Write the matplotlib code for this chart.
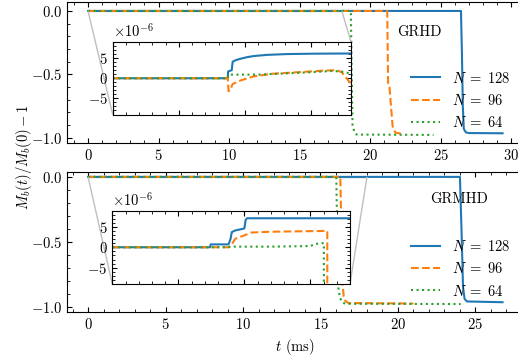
import matplotlib
matplotlib.use("Agg")
import matplotlib.pyplot as plt
from matplotlib.ticker import MultipleLocator
from mpl_toolkits.axes_grid1.inset_locator import mark_inset

plt.rcParams['font.family'] = 'serif'
plt.rcParams['font.serif'] = ['cmr10']
plt.rcParams['mathtext.fontset'] = 'cm'
plt.rcParams['axes.formatter.use_mathtext'] = True
plt.rcParams['font.size'] = 10.5
plt.rcParams['xtick.direction'] = 'in'
plt.rcParams['ytick.direction'] = 'in'
plt.rcParams['xtick.top'] = True
plt.rcParams['ytick.right'] = True

LABELS = [r"$N\;=\;128$", r"$N\;=\;96$", r"$N\;=\;64$"]
STYLES = ['-', '--', ':']
COLORS = ['C0', 'C1', 'C2']

# GRHD runs (time in ms, M_b(t)/M_b(0) - 1)
grhd_t_128 = [0, 8.69, 8.72, 8.99, 9.06, 9.3, 9.61, 10.1, 10.62, 11.63, 13.14, 15.15, 18.0,
              26.45, 26.52, 26.58, 26.65, 26.8, 27.0, 29.4]
grhd_y_128 = [0, 0, 1.7e-6, 2.0e-6, 4.1e-6, 4.5e-6, 4.8e-6, 5.2e-6, 5.5e-6, 5.8e-6, 6.0e-6, 6.1e-6, 6.15e-6,
              6.2e-6, -0.35, -0.75, -0.93, -0.958, -0.963, -0.965]
grhd_t_96 = [0, 8.69, 8.75, 8.85, 9.06, 9.61, 10.62, 12.0, 14.0, 16.0, 16.9, 17.3, 17.9,
             21.22, 21.28, 21.38, 21.6, 21.8, 22.2]
grhd_y_96 = [0, 0, -3.2e-6, -3.0e-6, -1.45e-6, -0.6e-6, 0.44e-6, 1.1e-6, 1.5e-6, 1.9e-6, 2.0e-6, 1.5e-6, -1.0e-6,
             -3.0e-6, -0.57, -0.60, -0.91, -0.96, -0.967]
grhd_t_64 = [0, 8.69, 8.72, 10.0, 11.1, 13.0, 15.0, 16.5, 17.2, 17.8, 18.0,
             18.64, 18.70, 18.76, 18.9, 19.05, 24.5]
grhd_y_64 = [0, 0, 0.9e-6, 0.9e-6, 0.9e-6, 1.2e-6, 1.5e-6, 1.8e-6, 1.7e-6, 1.3e-6, 1.1e-6,
             1.0e-6, -0.5, -0.9, -0.96, -0.975, -0.978]

# GRMHD runs
grmhd_t_128 = [0, 7.4, 7.45, 8.8, 8.95, 9.05, 9.3, 10.0, 10.1, 10.2, 18.0,
               24.0, 24.1, 24.2, 24.3, 24.45, 26.75]
grmhd_y_128 = [0, 0, 0.7e-6, 0.7e-6, 2.0e-6, 3.7e-6, 4.1e-6, 4.6e-6, 6.7e-6, 7.1e-6, 7.1e-6,
               7.1e-6, -0.4, -0.85, -0.94, -0.96, -0.966]
grmhd_t_96 = [0, 8.8, 9.0, 9.3, 9.4, 10.0, 10.5, 12.0, 14.0, 16.28,
              16.33, 16.4, 16.5, 16.6, 16.8, 21.0]
grmhd_y_96 = [0, 0, 0.5e-6, 2.0e-6, 2.2e-6, 2.9e-6, 3.6e-6, 3.8e-6, 3.9e-6, 4.0e-6,
              -0.3, -0.8, -0.92, -0.955, -0.972, -0.976]
grmhd_t_64 = [0, 8.8, 9.0, 12.0, 15.0, 15.4, 15.8, 16.02,
              16.08, 16.15, 16.25, 16.4, 16.6, 24.05]
grmhd_y_64 = [0, 0, 0.15e-6, 0.15e-6, 0.3e-6, 0.8e-6, 1.0e-6, 1.0e-6,
              -0.4, -0.85, -0.93, -0.965, -0.978, -0.98]

panels = [
    ("GRHD", [(grhd_t_128, grhd_y_128), (grhd_t_96, grhd_y_96), (grhd_t_64, grhd_y_64)]),
    ("GRMHD", [(grmhd_t_128, grmhd_y_128), (grmhd_t_96, grmhd_y_96), (grmhd_t_64, grmhd_y_64)]),
]

fig = plt.figure(figsize=(5.18, 3.6), dpi=100)

W, H = 518.0, 360.0
main_boxes = [[67.3, 1.7, 523.3, 143.3], [67.3, 171.7, 523.3, 311.7]]
inset_boxes = [[112.7, 42.0, 351.0, 114.5], [112.3, 210.5, 350.0, 284.0]]
xlims = [(-1.47, 30.87), (-1.34, 28.09)]
ylims = [(-1.044, 0.073), (-1.039, 0.04)]
text_pos = [(0.773, 0.786), (0.86, 0.803)]
inset_locs = [(3, 1), (3, 4)]


def px_box(b):
    return [b[0] / W, 1 - b[3] / H, (b[2] - b[0]) / W, (b[3] - b[1]) / H]


for i, (name, series) in enumerate(panels):
    ax = fig.add_axes(px_box(main_boxes[i]))
    for j, (t, y) in enumerate(series):
        ax.plot(t, y, STYLES[j], color=COLORS[j], lw=1.5, label=LABELS[j])
    ax.set_xlim(*xlims[i])
    ax.set_ylim(*ylims[i])
    ax.xaxis.set_major_locator(MultipleLocator(5))
    ax.xaxis.set_minor_locator(MultipleLocator(1))
    ax.yaxis.set_major_locator(MultipleLocator(0.5))
    ax.yaxis.set_minor_locator(MultipleLocator(0.1))
    ax.tick_params(which='both', top=True, right=True)
    ax.legend(loc='lower right', frameon=False)
    ax.text(text_pos[i][0], text_pos[i][1], name, transform=ax.transAxes,
            ha='center', va='center')
    if i == 1:
        ax.set_xlabel(r"$t$ (ms)")

    axins = fig.add_axes(px_box(inset_boxes[i]))
    for j, (t, y) in enumerate(series):
        axins.plot(t, y, STYLES[j], color=COLORS[j], lw=1.5)
    axins.set_xlim(0, 18)
    axins.set_ylim(-9e-6, 9e-6)
    axins.xaxis.set_major_locator(MultipleLocator(5))
    axins.xaxis.set_minor_locator(MultipleLocator(1))
    axins.yaxis.set_major_locator(MultipleLocator(5e-6))
    axins.yaxis.set_minor_locator(MultipleLocator(1e-6))
    axins.tick_params(which='both', top=True, right=True, labelbottom=False)
    mark_inset(ax, axins, loc1=inset_locs[i][0], loc2=inset_locs[i][1],
               fc='none', ec='0.75', lw=1.0)

fig.text(0.046, 1 - 156.7 / H, r"$M_b(t)/M_b(0) - 1$", rotation=90,
         ha='center', va='center')

fig.savefig("out.png", dpi=100)
